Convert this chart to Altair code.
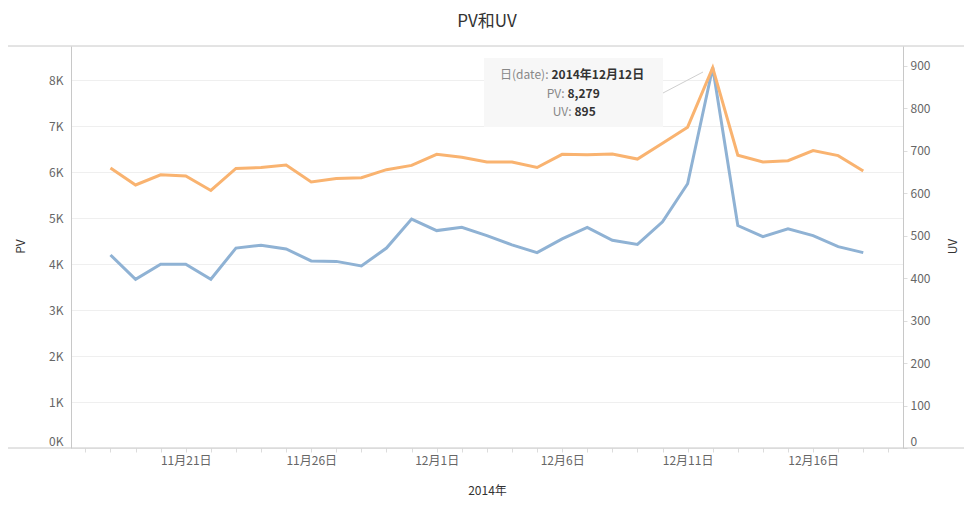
import altair as alt
import pandas as pd

# daily data, 2014-11-18 .. 2014-12-18
days = [
    "2014-11-18", "2014-11-19", "2014-11-20", "2014-11-21", "2014-11-22", "2014-11-23",
    "2014-11-24", "2014-11-25", "2014-11-26", "2014-11-27", "2014-11-28", "2014-11-29",
    "2014-11-30", "2014-12-01", "2014-12-02", "2014-12-03", "2014-12-04", "2014-12-05",
    "2014-12-06", "2014-12-07", "2014-12-08", "2014-12-09", "2014-12-10", "2014-12-11",
    "2014-12-12", "2014-12-13", "2014-12-14", "2014-12-15", "2014-12-16", "2014-12-17",
    "2014-12-18",
]
pv = [4200, 3670, 4000, 4000, 3670, 4350, 4410, 4330, 4070, 4060, 3960, 4350, 4980,
      4730, 4800, 4620, 4420, 4250, 4550, 4800, 4520, 4430, 4920, 5750, 8279, 4840,
      4600, 4770, 4620, 4380, 4250]
uv = [659, 619, 643, 640, 606, 658, 660, 666, 626, 634, 636, 655, 665,
      691, 684, 673, 673, 660, 691, 690, 692, 680, 717, 755, 895, 689,
      673, 676, 700, 688, 652]

pv_ticks = [0, 1000, 2000, 3000, 4000, 5000, 6000, 7000, 8000]
uv_ticks = [0, 100, 200, 300, 400, 500, 600, 700, 800, 900]

# tooltip shown in the picture
tip_labels = ["日(date):", "PV:", "UV:"]
tip_values = ["2014年12月12日", "8,279", "895"]

FONT = "Noto Sans CJK SC"
BLUE = "#8FB2D4"
ORANGE = "#F9B370"
W, H = 832, 402

df = pd.DataFrame({"date": pd.to_datetime(days), "PV": pv, "UV": uv})

tick_days = [alt.DateTime(year=2014, month=11, date=d) for d in range(17, 31)] + \
            [alt.DateTime(year=2014, month=12, date=d) for d in range(1, 20)]

x_enc = alt.X(
    "date:T",
    title="2014年",
    scale=alt.Scale(domain=[alt.DateTime(year=2014, month=11, date=16, hours=10, minutes=15),
                            alt.DateTime(year=2014, month=12, date=19, hours=14)]),
    axis=alt.Axis(
        values=tick_days,
        labelExpr="date(datum.value) % 5 == 1 ? (month(datum.value) + 1) + '月' + date(datum.value) + '日' : ''",
        labelOverlap=False,
        labelFlush=False,
        grid=False,
        domain=False,
        ticks=True,
        tickSize=4,
        tickColor="#dcdcdc",
        labelPadding=3,
        labelColor="#666666",
        labelFontSize=12,
        titleFontSize=12,
        titleColor="#333333",
        titleFontWeight="normal",
        titleY=42,
        titleBaseline="middle",
    ),
)

pv_line = alt.Chart(df).mark_line(color=BLUE, strokeWidth=3).encode(
    x=x_enc,
    y=alt.Y(
        "PV:Q",
        scale=alt.Scale(domain=[0, 8746], nice=False),
        axis=alt.Axis(
            orient="left",
            values=pv_ticks,
            labelExpr="datum.value / 1000 + 'K'",
            labelFlush=True,
            ticks=False,
            labelPadding=8,
            domainColor="#c8c8c8",
            gridColor="#efefef",
            labelColor="#666666",
            labelFontSize=12,
            title="PV",
            titleFontSize=12,
            titleColor="#333333",
            titleFontWeight="normal",
            titleAngle=-90,
            titleX=-51,
            titleY=200,
            titleAlign="center",
            titleBaseline="middle",
        ),
    ),
)

uv_line = alt.Chart(df).mark_line(color=ORANGE, strokeWidth=3).encode(
    x=x_enc,
    y=alt.Y(
        "UV:Q",
        scale=alt.Scale(domain=[0, 946], nice=False),
        axis=alt.Axis(
            orient="right",
            values=uv_ticks,
            labelFlush=True,
            grid=False,
            ticks=True,
            tickSize=4,
            tickColor="#dcdcdc",
            labelPadding=3,
            domainColor="#c8c8c8",
            labelColor="#666666",
            labelFontSize=12,
            title="UV",
            titleFontSize=12,
            titleColor="#333333",
            titleFontWeight="normal",
            titleAngle=-90,
            titleX=49,
            titleY=200,
            titleAlign="center",
            titleBaseline="middle",
        ),
    ),
)

# frame lines across the whole width
top_line = alt.Chart(df.head(1)).mark_rule(color="#c8c8c8", strokeWidth=1).encode(
    x=alt.value(-71), x2=alt.value(W + 70), y=alt.value(0)
)
bottom_line = alt.Chart(df.head(1)).mark_rule(color="#c8c8c8", strokeWidth=1).encode(
    x=alt.value(-67), x2=alt.value(W + 70), y=alt.value(H)
)

# tooltip box
tip_box = alt.Chart(df.head(1)).mark_rect(color="#f7f7f7").encode(
    x=alt.value(413), x2=alt.value(592), y=alt.value(12), y2=alt.value(81)
)
tip_link = alt.Chart(df.head(1)).mark_rule(color="#cfcfcf", strokeWidth=1).encode(
    x=alt.value(592), x2=alt.value(632), y=alt.value(47), y2=alt.value(26)
)
tip_layers = []
split_x = [478.5, 494.5, 501.5]
line_y = [29, 47.5, 66]
for lab, val, sx, ly in zip(tip_labels, tip_values, split_x, line_y):
    tip_layers.append(
        alt.Chart(df.head(1)).mark_text(
            text=lab, align="right", baseline="middle", font=FONT, fontSize=12, color="#888888"
        ).encode(x=alt.value(sx - 1), y=alt.value(ly))
    )
    tip_layers.append(
        alt.Chart(df.head(1)).mark_text(
            text=val, align="left", baseline="middle", font=FONT, fontSize=12,
            fontWeight="bold", color="#333333"
        ).encode(x=alt.value(sx + 2), y=alt.value(ly))
    )

chart = alt.layer(
    pv_line, uv_line, top_line, bottom_line, tip_box, tip_link, *tip_layers
).resolve_scale(
    y="independent"
).properties(
    width=W,
    height=H,
    autosize=alt.AutoSizeParams(type="none"),
    padding={"left": 63, "top": 38, "right": 61, "bottom": 50},
    title=alt.TitleParams(
        "PV和UV", font=FONT, fontSize=17, fontWeight="normal", color="#333333",
        anchor="middle", baseline="middle", offset=25, frame="group", dy=18,
    ),
).configure_axis(
    labelFont=FONT, titleFont=FONT
).configure_view(
    stroke=None
)

chart.save("out.html", embed_options={"renderer": "svg", "actions": False})
